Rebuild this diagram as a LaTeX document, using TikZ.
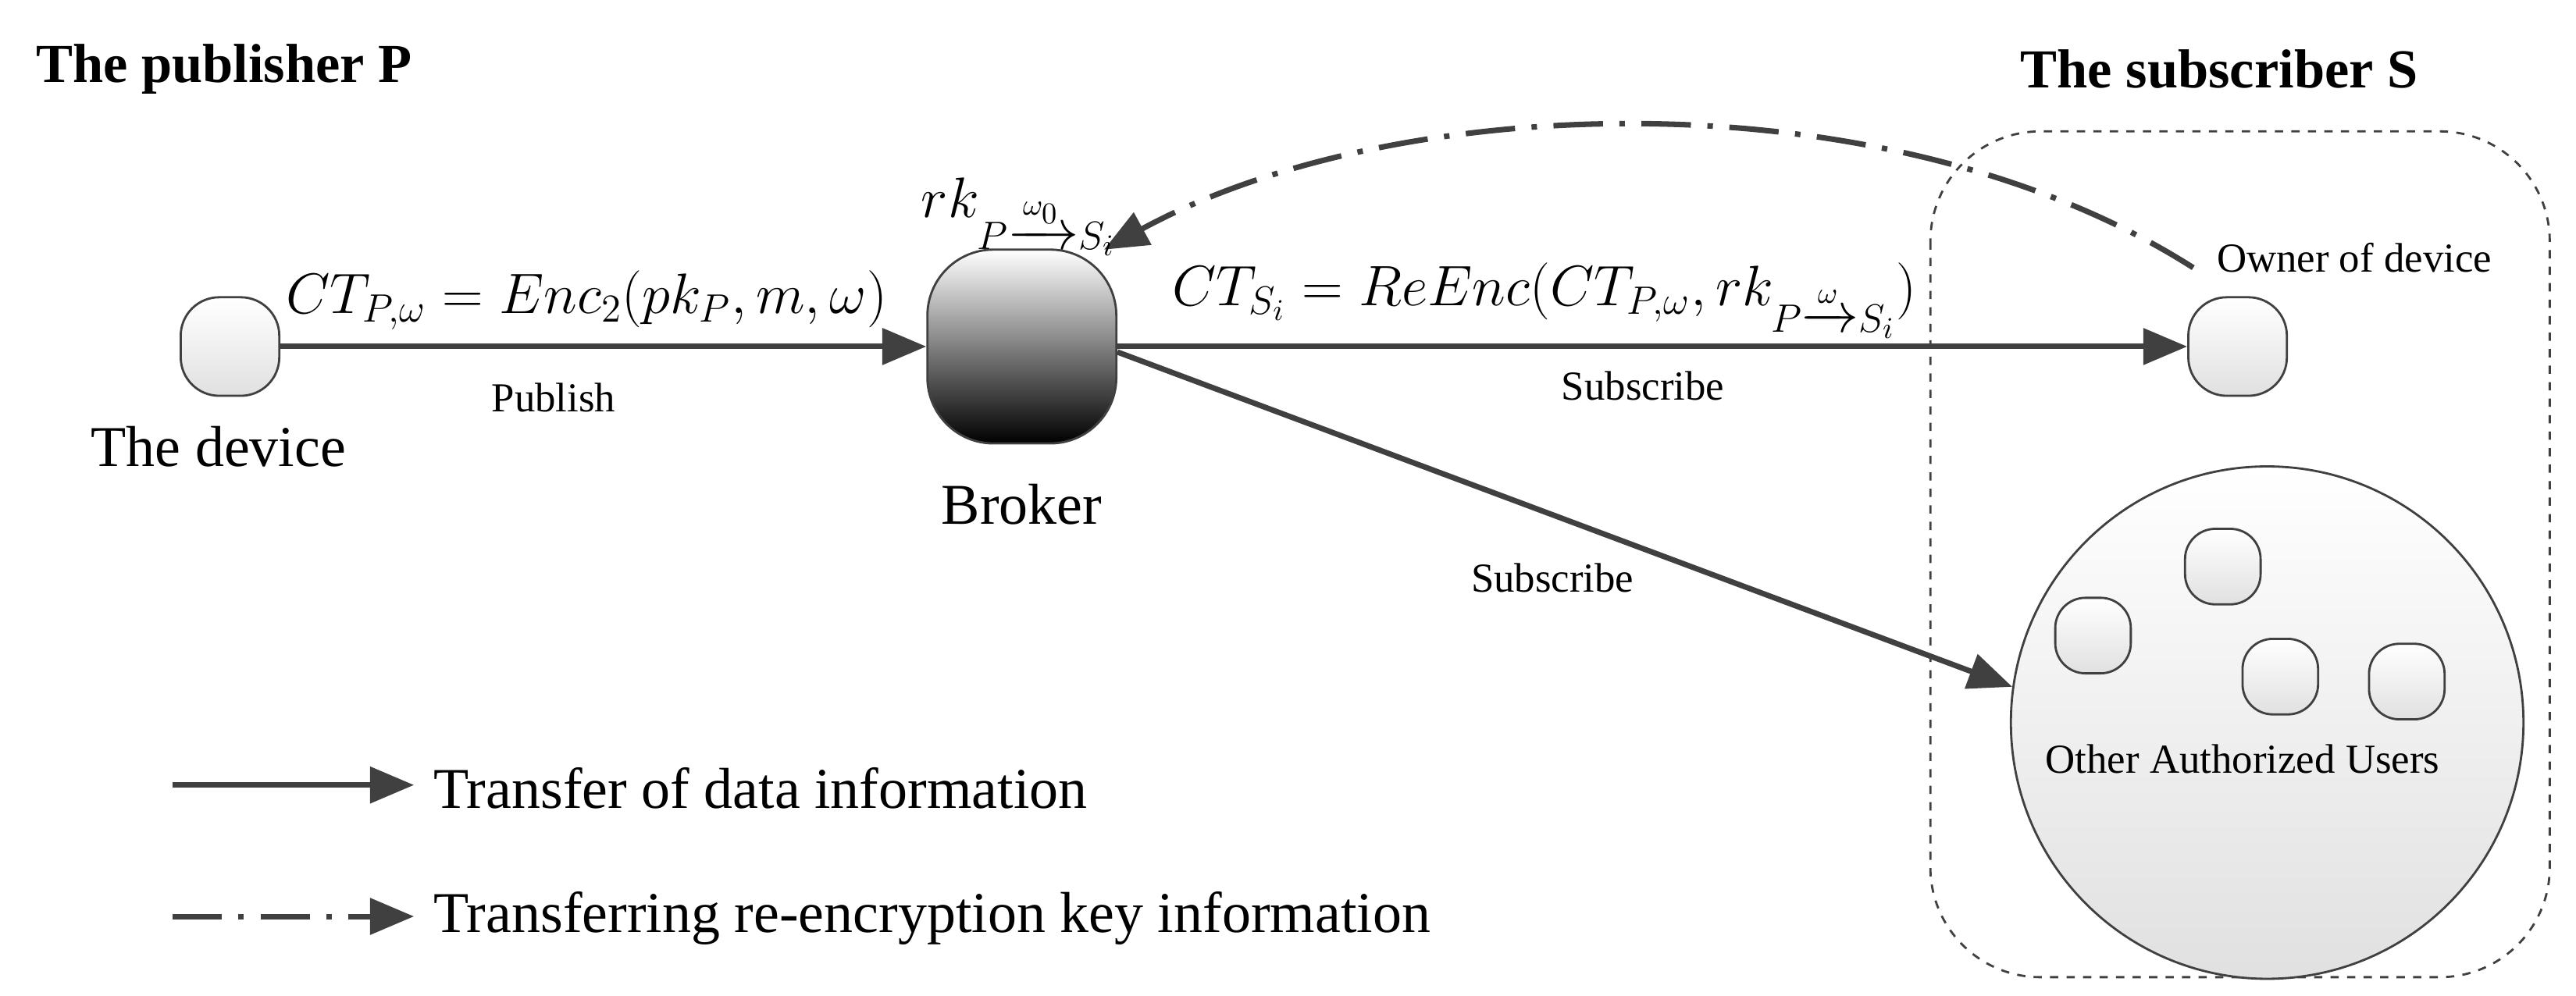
\documentclass[tikz,border=0pt]{standalone}
\usepackage{fontspec}
\usepackage{amsmath}
\setmainfont{Liberation Serif}
\usetikzlibrary{arrows.meta}
\definecolor{ln}{HTML}{404040}
\begin{document}
\begin{tikzpicture}[x=0.021cm,y=-0.021cm,
  dev/.style={draw=ln,line width=0.8pt,rounded corners=#1,top color=white,bottom color=black!12},
  link/.style={draw=ln,line width=2pt,-{Triangle[length=16pt,width=13pt]}},
  key/.style={draw=ln,line width=2pt,dash pattern=on 18pt off 6pt on 2pt off 6pt,-{Triangle[length=16pt,width=13pt]}},
  lab/.style={font=\fontsize{15}{18}\selectfont},
  big/.style={font=\fontsize{21}{25}\selectfont},
  mth/.style={font=\fontsize{21}{25}\selectfont},
  ttl/.style={font=\bfseries\fontsize{20}{24}\selectfont}]
\useasboundingbox (0,0) rectangle (1568,606);
\node[ttl,anchor=west] (tp) at (16,42) {The publisher P};
\node[ttl,anchor=west] (ts) at (1224,42) {The subscriber S};
\draw[ln,dashed,line width=0.8pt,rounded corners=40] (1175,80) rectangle (1552,595);
\node[draw=ln,line width=0.8pt,circle,minimum size=312*0.021cm,top color=white,bottom color=black!12] (c) at (1380,440) {};
% devices
\node[dev=14,minimum width=60*0.021cm,minimum height=60*0.021cm] (d) at (140,211) {};
\node[dev=14,minimum width=60*0.021cm,minimum height=60*0.021cm] (o) at (1362,211) {};
\node[draw=ln,line width=0.8pt,rounded corners=24,minimum width=115*0.021cm,minimum height=118*0.021cm,top color=white,bottom color=black] (b) at (622,211) {};
\foreach \n/\x/\y in {u1/1353/345,u2/1274/387,u3/1388/412,u4/1465/415}
  \node[dev=11,minimum width=46*0.021cm,minimum height=46*0.021cm] (\n) at (\x,\y) {};
% arrows
\draw[link] (d.east) -- (b.west);
\draw[link] (b.east) -- (o.west);
\draw[link] ([yshift=-2pt]b.east) -- (c.180-8);
\coordinate (ks) at (1335,163);
\coordinate (ke) at (672,152);
\draw[key] (ks) .. controls (1150,45) and (850,55) .. (ke);
% labels
\node[big] (l1) at (133,272) {The device};
\node[big] (l2) at (622,307) {Broker};
\node[lab] (l3) at (1433,157) {Owner of device};
\node[lab] (l4) at (1365,462) {Other Authorized Users};
\node[lab] (l5) at (337,242) {Publish};
\node[lab] (l6) at (1000,235) {Subscribe};
\node[lab] (l7) at (945,352) {Subscribe};
\node[mth] (f1) at (357,183) {$CT_{P,\omega}=Enc_2(pk_P,m,\omega)$};
\node[mth] (f2) at (620,132) {$rk_{P\xrightarrow{\omega_0}S_i}$};
\node[mth] (f3) at (940,183) {$CT_{S_i}=ReEnc(CT_{P,\omega},rk_{P\xrightarrow{\omega}S_i})$};
% legend
\coordinate (a1) at (105,478); \coordinate (a2) at (252,478);
\coordinate (b1) at (105,558); \coordinate (b2) at (252,558);
\draw[link] (a1) -- (a2);
\draw[key] (b1) -- (b2);
\node[big,anchor=west] (t1) at (258,480) {Transfer of data information};
\node[big,anchor=west] (t2) at (258,559) {Transferring re-encryption key information};
\end{tikzpicture}
\end{document}
